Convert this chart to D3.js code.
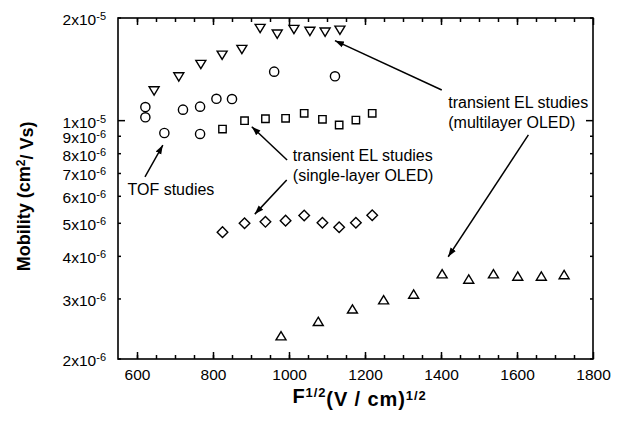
<!DOCTYPE html>
<html>
<head>
<meta charset="utf-8">
<script src="https://cdn.jsdelivr.net/npm/d3@7"></script>
<style>
  body { margin: 0; background: #fff; }
  text { font-family: "Liberation Sans", Arial, Helvetica, sans-serif; fill: #000; }
</style>
</head>
<body>
<div id="chart"></div>
<script>
// tick values
var xTicks = [600, 800, 1000, 1200, 1400, 1600, 1800];
var yTicks = [2e-6, 3e-6, 4e-6, 5e-6, 6e-6, 7e-6, 8e-6, 9e-6, 1e-5, 2e-5];

// TOF studies (circles)
var tofX = [622, 622, 672, 721, 766, 766, 809, 850, 961, 1121];
var tofY = [1.096e-5, 1.023e-5, 9.20e-6, 1.077e-5, 1.099e-5, 9.14e-6, 1.159e-5, 1.157e-5, 1.392e-5, 1.349e-5];

// transient EL, single-layer OLED (squares and diamonds)
var singleX = [825, 883, 938, 991, 1040, 1088, 1132, 1176, 1219];
var squareY = [9.45e-6, 1.0e-5, 1.013e-5, 1.016e-5, 1.051e-5, 1.009e-5, 9.71e-6, 1.004e-5, 1.051e-5];
var diamondY = [4.71e-6, 5.0e-6, 5.05e-6, 5.09e-6, 5.27e-6, 5.02e-6, 4.87e-6, 5.02e-6, 5.28e-6];

// transient EL, multilayer OLED (down and up triangles)
var downX = [645, 710, 768, 824, 876, 924, 969, 1013, 1055, 1095, 1134];
var downY = [1.224e-5, 1.346e-5, 1.463e-5, 1.558e-5, 1.619e-5, 1.866e-5, 1.796e-5, 1.853e-5, 1.83e-5, 1.82e-5, 1.844e-5];
var upX = [979, 1077, 1167, 1249, 1328, 1403, 1473, 1538, 1602, 1664, 1724];
var upY = [2.336e-6, 2.574e-6, 2.8e-6, 2.98e-6, 3.096e-6, 3.552e-6, 3.426e-6, 3.55e-6, 3.496e-6, 3.496e-6, 3.53e-6];

// annotations (data coordinates)
var labels = [
  {x: 575, y: 6.3e-6, lines: ["TOF studies"]},
  {x: 1010, y: 7.93e-6, lines: ["transient EL studies", "(single-layer OLED)"]},
  {x: 1419, y: 1.129e-5, lines: ["transient EL studies", "(multilayer OLED)"]}
];
var arrows = [
  {x0: 621, y0: 6.84e-6, x1: 668, y1: 8.48e-6},
  {x0: 995, y0: 7.67e-6, x1: 902, y1: 9.6e-6},
  {x0: 994, y0: 6.7e-6, x1: 910, y1: 5.32e-6},
  {x0: 1402, y0: 1.23e-5, x1: 1121, y1: 1.716e-5},
  {x0: 1630, y0: 9.08e-6, x1: 1419, y1: 3.99e-6}
];

var W = 629, H = 424;
var margin = {top: 18, right: 36, bottom: 65, left: 118},
    width = W - margin.left - margin.right,
    height = H - margin.top - margin.bottom;

var svg = d3.select("#chart")
  .append("svg")
    .attr("width", W)
    .attr("height", H);

var g = svg.append("g")
    .attr("transform", "translate(" + margin.left + "," + margin.top + ")");

var x = d3.scaleLinear().domain([550, 1800]).range([0, width]);
var y = d3.scaleLog().domain([2e-6, 2e-5]).range([height, 0]);

// minor x ticks every 50, major with labels
var xMinor = d3.range(600, 1800, 50);
g.append("g")
    .attr("transform", "translate(0," + height + ")")
    .call(d3.axisBottom(x).tickValues(xMinor).tickSizeInner(-4).tickSizeOuter(0).tickFormat(""));
g.append("g")
    .call(d3.axisTop(x).tickValues(xMinor).tickSizeInner(-4).tickSizeOuter(0).tickFormat(""));
g.append("g")
    .attr("class", "xax")
    .attr("transform", "translate(0," + height + ")")
    .call(d3.axisBottom(x).tickValues(xTicks).tickSizeInner(-7).tickSizeOuter(0).tickPadding(10).tickFormat(d3.format("d")));
g.append("g")
    .call(d3.axisTop(x).tickValues(xTicks).tickSizeInner(-7).tickSizeOuter(0).tickFormat(""));

// y ticks: decade ticks long, others short
function ySize(d) { return (d === 1e-5) ? 7 : 3; }
g.append("g").selectAll("line")
  .data(yTicks)
  .enter().append("line")
    .attr("x1", 0).attr("x2", function(d) { return ySize(d); })
    .attr("y1", function(d) { return y(d); }).attr("y2", function(d) { return y(d); });
g.append("g").selectAll("line")
  .data(yTicks)
  .enter().append("line")
    .attr("x1", width).attr("x2", function(d) { return width - ySize(d); })
    .attr("y1", function(d) { return y(d); }).attr("y2", function(d) { return y(d); });
g.selectAll("line").attr("stroke", "#000").attr("stroke-width", 1.5);
g.selectAll(".domain").remove();

// y tick labels "Nx10^e"
var yLab = g.append("g").selectAll("text")
  .data(yTicks)
  .enter().append("text")
    .attr("x", -12)
    .attr("y", function(d) { return y(d); })
    .attr("dy", "0.45em")
    .attr("text-anchor", "end")
    .style("font-size", "15.5px");
yLab.append("tspan").text(function(d) {
  var e = Math.floor(Math.log10(d) + 1e-9);
  return Math.round(d / Math.pow(10, e)) + "x10";
});
yLab.append("tspan")
    .attr("dy", "-0.45em")
    .style("font-size", "11px")
    .text(function(d) { return "-" + Math.abs(Math.floor(Math.log10(d) + 1e-9)); });

g.selectAll(".xax text")
    .style("font-size", "15.5px")
    .attr("font-family", null);

// frame
g.append("rect")
    .attr("width", width)
    .attr("height", height)
    .attr("fill", "none")
    .attr("stroke", "#000")
    .attr("stroke-width", 1.6);

// markers
var shapes = {
  circle: "M4.6,0A4.6,4.6 0 1,1 -4.6,0A4.6,4.6 0 1,1 4.6,0Z",
  square: "M-3.7,-3.7H3.7V3.7H-3.7Z",
  diamond: "M0,-5.3L5.3,0L0,5.3L-5.3,0Z",
  down: "M-5,-3.9H5L0,4.4Z",
  up: "M0,-4.4L5,3.9H-5Z"
};
function drawSeries(xs, ys, shape) {
  g.append("g").selectAll("path")
    .data(xs.map(function(v, i) { return {x: v, y: ys[i]}; }))
    .enter().append("path")
      .attr("d", shapes[shape])
      .attr("transform", function(d) { return "translate(" + x(d.x) + "," + y(d.y) + ")"; })
      .attr("fill", "none")
      .attr("stroke", "#000")
      .attr("stroke-width", 1.4);
}
drawSeries(downX, downY, "down");
drawSeries(tofX, tofY, "circle");
drawSeries(singleX, squareY, "square");
drawSeries(singleX, diamondY, "diamond");
drawSeries(upX, upY, "up");

// arrows
svg.append("defs").append("marker")
    .attr("id", "head")
    .attr("viewBox", "0 0 10 10")
    .attr("refX", 10).attr("refY", 5)
    .attr("markerWidth", 9).attr("markerHeight", 9)
    .attr("markerUnits", "userSpaceOnUse")
    .attr("orient", "auto")
  .append("path")
    .attr("d", "M0,1.5L10,5L0,8.5Z")
    .attr("fill", "#000");
g.append("g").selectAll("line")
  .data(arrows)
  .enter().append("line")
    .attr("x1", function(d) { return x(d.x0); })
    .attr("y1", function(d) { return y(d.y0); })
    .attr("x2", function(d) { return x(d.x1); })
    .attr("y2", function(d) { return y(d.y1); })
    .attr("stroke", "#000")
    .attr("stroke-width", 1.5)
    .attr("marker-end", "url(#head)");

// annotation text
labels.forEach(function(l) {
  var t = g.append("text")
      .attr("x", x(l.x))
      .attr("y", y(l.y))
      .style("font-size", "16px");
  l.lines.forEach(function(s, i) {
    t.append("tspan")
      .attr("x", x(l.x))
      .attr("dy", i === 0 ? "0.36em" : "1.25em")
      .text(s);
  });
});

// axis titles
var xt = g.append("text")
    .attr("x", width / 2 + 4)
    .attr("y", height + 44)
    .attr("text-anchor", "middle")
    .style("font-size", "20px")
    .style("font-weight", "bold")
    .style("letter-spacing", "0.9px");
xt.append("tspan").text("F");
xt.append("tspan").attr("dy", "-0.45em").style("font-size", "13px").text("1/2");
xt.append("tspan").attr("dy", "0.45em").text("(V / cm)");
xt.append("tspan").attr("dy", "-0.45em").style("font-size", "13px").text("1/2");

var yt = g.append("text")
    .attr("transform", "translate(" + (-88) + "," + (y(6.0e-6)) + ") rotate(-90)")
    .attr("text-anchor", "middle")
    .style("font-size", "18px")
    .style("font-weight", "bold");
yt.append("tspan").text("Mobility (cm");
yt.append("tspan").attr("dy", "-0.45em").style("font-size", "12px").text("2");
yt.append("tspan").attr("dy", "0.45em").text("/ Vs)");
</script>
</body>
</html>
